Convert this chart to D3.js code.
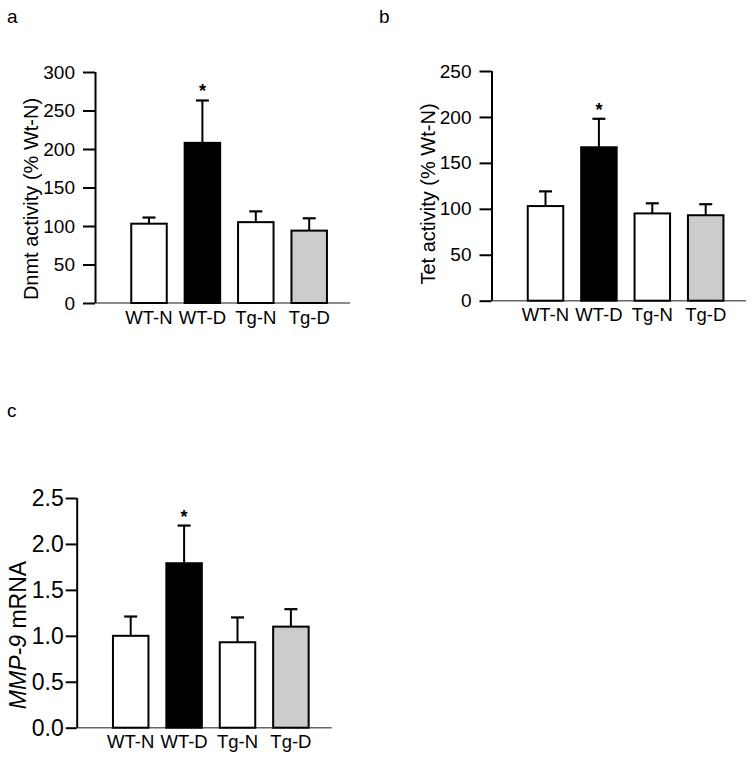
<!DOCTYPE html>
<html><head><meta charset="utf-8">
<script src="https://cdn.jsdelivr.net/npm/d3@7"></script>
<style>
body{margin:0;background:#fff;}
text{font-family:"Liberation Sans",Arial,Helvetica,sans-serif;fill:#000;}
</style></head>
<body><svg id="chart" width="754" height="760"></svg>
<script>
const categories = ["WT-N","WT-D","Tg-N","Tg-D"];
const barFills = ["#ffffff","#000000","#ffffff","#cccccc"];

const dnmtValues = [103, 208, 105, 94];
const dnmtErrors = [8, 55, 14, 16];
const dnmtTicks = [0,50,100,150,200,250,300];

const tetValues = [103, 167, 95, 93];
const tetErrors = [16, 31, 11, 12];
const tetTicks = [0,50,100,150,200,250];

const mmpValues = [1.00, 1.79, 0.93, 1.10];
const mmpErrors = [0.21, 0.41, 0.27, 0.19];
const mmpTicks = [0,0.5,1.0,1.5,2.0,2.5];

const svg = d3.select("#chart");

const panels = [
  {letter:"a", lx:7, ly:23, values:dnmtValues, errors:dnmtErrors, ticks:dnmtTicks, fmt:d3.format("d"),
   max:300, axisX:95, y0:303, y1:72, xEnd:350, tickLen:12, tickPad:8, tickFont:19,
   label:[{t:"Dnmt activity (% Wt-N)"}], labX:37.5, labY:199, labFont:20},
  {letter:"b", lx:379, ly:23, values:tetValues, errors:tetErrors, ticks:tetTicks, fmt:d3.format("d"),
   max:250, axisX:491.5, y0:300.7, y1:71, xEnd:746, tickLen:12, tickPad:8, tickFont:19,
   label:[{t:"Tet activity (% Wt-N)"}], labX:435, labY:194, labFont:20},
  {letter:"c", lx:7, ly:417, values:mmpValues, errors:mmpErrors, ticks:mmpTicks, fmt:d3.format(".1f"),
   max:2.5, axisX:76.7, y0:727.7, y1:498, xEnd:331.7, tickLen:11, tickPad:2, tickFont:23,
   label:[{t:"MMP-9", italic:true},{t:" mRNA"}], labX:26, labY:635, labFont:23}
];

panels.forEach(p => {
  const g = svg.append("g");
  g.append("text").attr("x", p.lx).attr("y", p.ly).attr("font-size", 19).text(p.letter);

  const y = d3.scaleLinear().domain([0, p.max]).range([p.y0, p.y1]);
  const step = 53.4;
  const x = d3.scalePoint().domain(categories)
    .range([p.axisX + 54, p.axisX + 54 + 3*step]);
  const bw = 35.5;

  // baseline (x axis)
  g.append("line").attr("x1", p.axisX).attr("x2", p.xEnd)
    .attr("y1", p.y0).attr("y2", p.y0).attr("stroke", "#666").attr("stroke-width", 1.5);

  // y axis
  const ax = g.append("g").attr("transform", `translate(${p.axisX},0)`)
    .call(d3.axisLeft(y).tickValues(p.ticks).tickFormat(p.fmt)
      .tickSize(p.tickLen).tickPadding(p.tickPad).tickSizeOuter(0));
  ax.attr("font-size", p.tickFont).attr("font-family", '"Liberation Sans",Arial,sans-serif');
  ax.select(".domain").attr("stroke", "#000").attr("stroke-width", 2)
    .attr("d", `M0.5,${p.y1}V${p.y0}`);
  ax.selectAll(".tick line").attr("stroke", "#000").attr("stroke-width", 2);
  ax.selectAll(".tick text").attr("font-size", p.tickFont).attr("fill", "#000");

  // x labels
  categories.forEach(c => {
    g.append("text").attr("x", x(c)).attr("y", p.y0 + 20.5)
      .attr("text-anchor", "middle").attr("font-size", 18.5).text(c);
  });

  // bars
  categories.forEach((c, i) => {
    const v = p.values[i], e = p.errors[i];
    const cx = x(c);
    g.append("line").attr("x1", cx).attr("x2", cx)
      .attr("y1", y(v)).attr("y2", y(v + e)).attr("stroke", "#000").attr("stroke-width", 2);
    g.append("line").attr("x1", cx - 6.5).attr("x2", cx + 6.5)
      .attr("y1", y(v + e)).attr("y2", y(v + e)).attr("stroke", "#000").attr("stroke-width", 2.2);
    g.append("rect").attr("x", cx - bw/2).attr("y", y(v))
      .attr("width", bw).attr("height", p.y0 - y(v))
      .attr("fill", barFills[i]).attr("stroke", "#000").attr("stroke-width", 2);
    if (c === "WT-D") {
      g.append("text").attr("x", cx).attr("y", y(v + e) - 3)
        .attr("text-anchor", "middle").attr("font-size", 18).attr("font-weight", "bold").text("*");
    }
  });

  // y label
  const lt = g.append("text")
    .attr("transform", `translate(${p.labX},${p.labY}) rotate(-90)`)
    .attr("text-anchor", "middle").attr("font-size", p.labFont);
  p.label.forEach(s => {
    lt.append("tspan").attr("font-style", s.italic ? "italic" : "normal").text(s.t);
  });
});
</script></body></html>
